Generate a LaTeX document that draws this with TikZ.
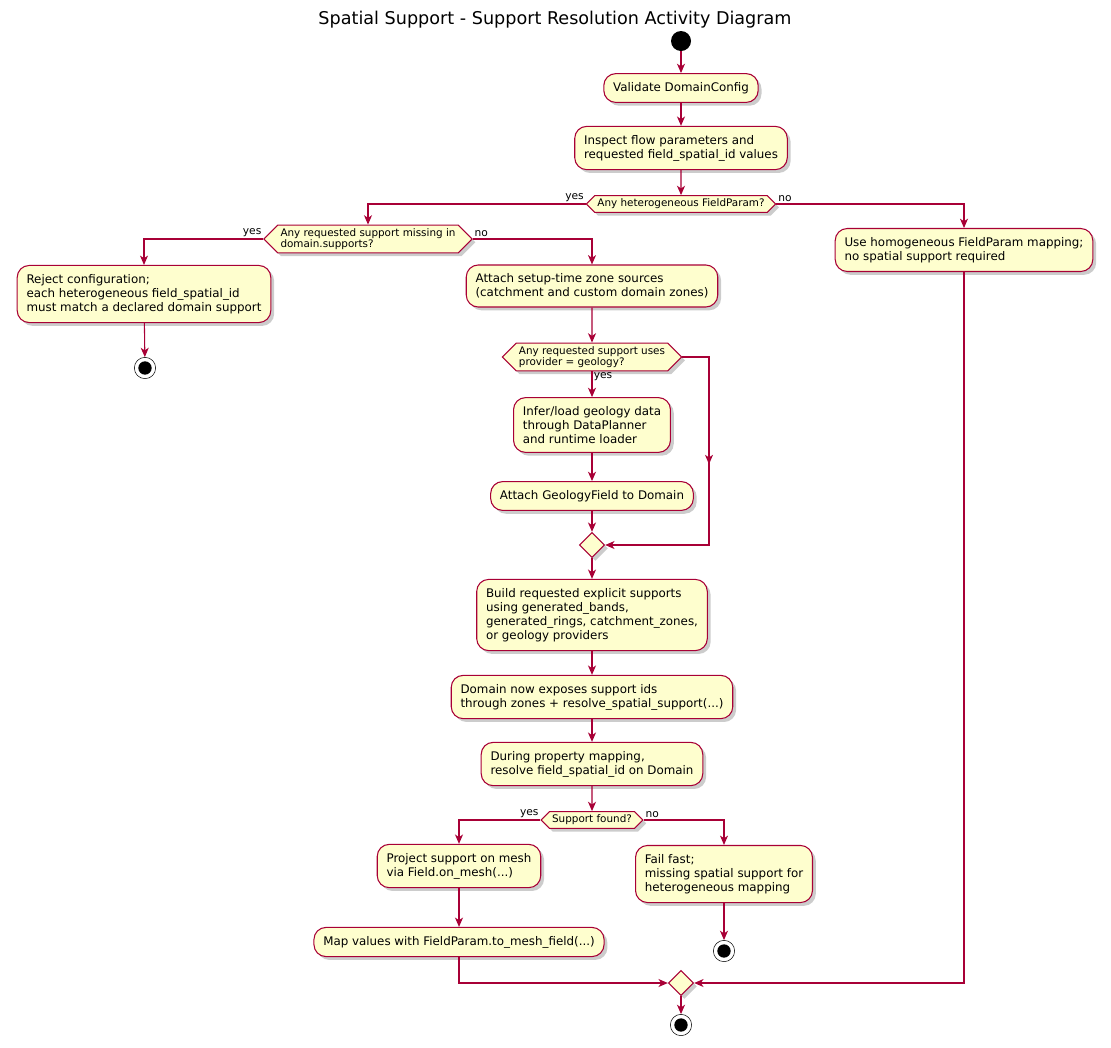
\documentclass[tikz,border=0pt]{standalone}
\usepackage{fontspec}
\setmainfont{DejaVu Sans}
\usetikzlibrary{arrows.meta}
\usetikzlibrary{shapes.geometric,shapes.symbols}
\usetikzlibrary{shadows}
\usetikzlibrary{calc}
\definecolor{umlfill}{HTML}{FEFECE}
\definecolor{umlline}{HTML}{A80036}
\tikzstyle{action} = [rectangle, rounded corners=9pt, draw=umlline, fill=umlfill, line width=0.8pt,
align=left, inner xsep=7pt, inner ysep=6.5pt, font=\fontsize{8.9}{10.6}\selectfont,
drop shadow={opacity=0.4, shadow xshift=2.5pt, shadow yshift=-2.5pt}]
\tikzstyle{choice} = [signal, signal to=east and west, draw=umlline, fill=umlfill, line width=0.8pt,
align=left, inner xsep=2pt, inner ysep=2.5pt, font=\fontsize{7.8}{8.3}\selectfont,
drop shadow={opacity=0.4, shadow xshift=2.5pt, shadow yshift=-2.5pt}]
\tikzstyle{merge} = [diamond, draw=umlline, fill=umlfill, minimum size=19pt, line width=0.8pt,
inner sep=0pt, drop shadow={opacity=0.4, shadow xshift=2.5pt, shadow yshift=-2.5pt}]
\tikzstyle{startnode} = [circle, fill=black, minimum size=15pt, inner sep=0pt]
\tikzstyle{endnode} = [circle, draw=black, fill=white, minimum size=16pt, inner sep=0pt,
path picture={\fill[black] (path picture bounding box.center) circle (5pt);}]
\tikzstyle{flow} = [draw=umlline, line width=0.8pt, -{Stealth[length=7pt, width=6pt, inset=2pt]}]
\tikzstyle{guard} = [font=\fontsize{8}{9}\selectfont, inner sep=1pt]

\begin{document}
\begin{tikzpicture}[x=0.75pt, y=-0.75pt]
\useasboundingbox (0,0) rectangle (1111,1047);

\node[font=\fontsize{13.2}{15}\selectfont] (title) at (555,20) {Spatial Support - Support Resolution Activity Diagram};

\node[startnode] (start) at (681,41) {};
\node[action] (validate) at (681,88) {Validate DomainConfig};
\node[action] (inspect) at (681,148) {Inspect flow parameters and\\requested field\_spatial\_id values};
\node[choice] (hetero) at (681,204) {Any heterogeneous FieldParam?};

\node[choice] (missing) at (368,239) {Any requested support missing in\\domain.supports?};
\node[action] (reject) at (144,294) {Reject configuration;\\each heterogeneous field\_spatial\_id\\must match a declared domain support};
\node[endnode] (stopreject) at (145,368) {};

\node[action] (zones) at (592,286) {Attach setup-time zone sources\\(catchment and custom domain zones)};
\node[action] (homog) at (964,250) {Use homogeneous FieldParam mapping;\\no spatial support required};

\node[choice] (geology) at (592,357) {Any requested support uses\\provider = geology?};
\node[action] (infer) at (592,425) {Infer/load geology data\\through DataPlanner\\and runtime loader};
\node[action] (attachgeo) at (592,496) {Attach GeologyField to Domain};
\node[merge] (mergegeo) at (592,545) {};
\coordinate (skipa) at (709,357);
\coordinate (skipb) at (709,545);

\node[action] (build) at (592,615) {Build requested explicit supports\\using generated\_bands,\\generated\_rings, catchment\_zones,\\or geology providers};
\node[action] (exposes) at (592,697) {Domain now exposes support ids\\through zones + resolve\_spatial\_support(...)};
\node[action] (resolve) at (592,764) {During property mapping,\\resolve field\_spatial\_id on Domain};
\node[choice] (found) at (592,820) {Support found?};

\node[action] (project) at (459,866) {Project support on mesh\\via Field.on\_mesh(...)};
\node[action] (mapvals) at (459,942) {Map values with FieldParam.to\_mesh\_field(...)};
\node[action] (failfast) at (724,874) {Fail fast;\\missing spatial support for\\heterogeneous mapping};
\node[endnode] (stopfail) at (724,951) {};

\node[merge] (mergeall) at (681,983) {};
\node[endnode] (stopall) at (681,1025) {};

\draw[flow] (start) -- (validate);
\draw[flow] (validate) -- (inspect);
\draw[flow] (inspect) -- (hetero);

\draw[flow] (hetero.west) -| (missing.north) node[guard, pos=0, above left] {yes};
\draw[flow] (hetero.east) -| (homog.north) node[guard, pos=0, above right] {no};

\draw[flow] (missing.west) -| (reject.north) node[guard, pos=0, above left] {yes};
\draw[flow] (missing.east) -| (zones.north) node[guard, pos=0, above right] {no};
\draw[flow] (reject) -- (stopreject);

\draw[flow] (zones) -- (geology);
\draw[flow] (geology.south) -- (infer) node[guard, pos=0.2, right] {yes};
\draw[flow] (infer) -- (attachgeo);
\draw[flow] (attachgeo) -- (mergegeo);
\draw[flow] (geology.east) -- (skipa) -- ($(skipa)!0.57!(skipb)$);
\draw[flow] ($(skipa)!0.5!(skipb)$) -- (skipb) -- (mergegeo.east);

\draw[flow] (mergegeo) -- (build);
\draw[flow] (build) -- (exposes);
\draw[flow] (exposes) -- (resolve);
\draw[flow] (resolve) -- (found);

\draw[flow] (found.west) -| (project.north) node[guard, pos=0, above left] {yes};
\draw[flow] (found.east) -| (failfast.north) node[guard, pos=0, above right] {no};
\draw[flow] (project) -- (mapvals);
\draw[flow] (failfast) -- (stopfail);

\draw[flow] (mapvals.south) |- (mergeall.west);
\draw[flow] (homog.south) |- (mergeall.east);
\draw[flow] (mergeall) -- (stopall);

\end{tikzpicture}
\end{document}
